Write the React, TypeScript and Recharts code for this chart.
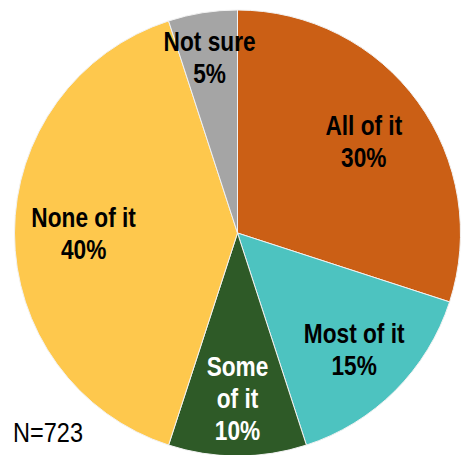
import { PieChart, Pie, Cell } from 'recharts'

const names = ['All of it', 'Most of it', 'Some of it', 'None of it', 'Not sure']
const values = [30, 15, 10, 40, 5]
const labelLines = [['All of it'], ['Most of it'], ['Some', 'of it'], ['None of it'], ['Not sure']]
const colors = ['#CB5F15', '#4DC3C0', '#2E5A27', '#FEC84D', '#A5A5A5']
const textColors = ['#000', '#000', '#fff', '#000', '#000']
const labelRadius = [0.70, 0.74, 0.74, 0.69, 0.80]

const data = names.map((name, i) => ({ name, value: values[i] }))

const FONT = '"Liberation Sans", Arial, sans-serif'
const NARROW = 0.84
const RAD = Math.PI / 180

function renderLabel(props: any) {
    const { cx, cy, midAngle, outerRadius, index, value } = props
    const r = outerRadius * labelRadius[index]
    const x = cx + r * Math.cos(-midAngle * RAD)
    const y = cy + r * Math.sin(-midAngle * RAD)
    const lines = [...labelLines[index], `${value}%`]
    const lh = 32
    const y0 = -((lines.length - 1) * lh) / 2
    return (
        <g transform={`translate(${x},${y}) scale(${NARROW},1)`}>
            <text
                x={0}
                y={y0}
                textAnchor="middle"
                dominantBaseline="central"
                fill={textColors[index]}
                style={{ fontFamily: FONT, fontSize: 27, fontWeight: 'bold' }}
            >
                {lines.map((l, i) => (
                    <tspan key={i} x={0} y={y0 + i * lh}>
                        {l}
                    </tspan>
                ))}
            </text>
        </g>
    )
}

export default function App() {
    return (
        <div style={{ position: 'absolute', left: 0, top: 0, width: 461, height: 455, background: '#fff', overflow: 'hidden' }}>
            <PieChart width={461} height={455} margin={{ top: 0, right: 0, bottom: 0, left: 0 }}>
                <Pie
                    data={data}
                    dataKey="value"
                    nameKey="name"
                    cx={237.5}
                    cy={233}
                    outerRadius={223}
                    startAngle={90}
                    endAngle={-270}
                    stroke="#f2f2f2"
                    strokeWidth={1}
                    label={renderLabel}
                    labelLine={false}
                    isAnimationActive={false}
                >
                    {data.map((d, i) => (
                        <Cell key={d.name} fill={colors[i]} />
                    ))}
                </Pie>
            </PieChart>
            <div
                style={{
                    position: 'absolute',
                    left: 13,
                    top: 417,
                    fontFamily: FONT,
                    fontSize: 28,
                    lineHeight: '32px',
                    color: '#000',
                    transform: `scaleX(${NARROW})`,
                    transformOrigin: 'left top',
                }}
            >
                N=723
            </div>
        </div>
    )
}
